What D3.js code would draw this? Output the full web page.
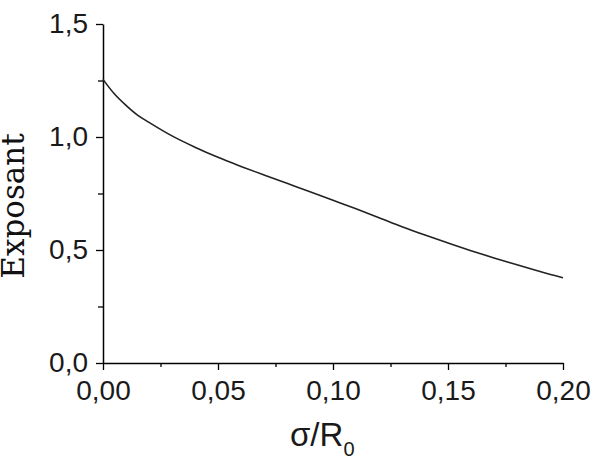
<!DOCTYPE html>
<html>
<head>
<meta charset="utf-8">
<script src="https://cdn.jsdelivr.net/npm/d3@7"></script>
<style>
  body { margin: 0; background: #fff; }
  svg { display: block; }
</style>
</head>
<body>
<div id="container"></div>
<script>
// values
var sigma = [0, 0.005, 0.01, 0.015, 0.02, 0.03, 0.04, 0.05, 0.06, 0.07, 0.08, 0.09,
    0.10, 0.11, 0.12, 0.13, 0.14, 0.15, 0.16, 0.17, 0.18, 0.19, 0.20];
var exposant = [1.255, 1.19, 1.14, 1.097, 1.065, 1.005, 0.955, 0.91, 0.87, 0.832, 0.795, 0.758,
    0.72, 0.682, 0.643, 0.603, 0.566, 0.531, 0.497, 0.465, 0.435, 0.405, 0.377];
var xTicks = [0, 0.05, 0.10, 0.15, 0.20];
var xMinor = [0.025, 0.075, 0.125, 0.175];
var yTicks = [0, 0.5, 1.0, 1.5];
var yMinor = [0.25, 0.75, 1.25];

const width = 598, height = 462;
const margin = { top: 24, right: 35, bottom: 99, left: 103 };

var svg = d3.select("#container")
    .append("svg")
    .attr("width", width)
    .attr("height", height);

var x = d3.scaleLinear()
    .domain([0, 0.2])
    .range([margin.left, width - margin.right]);

var y = d3.scaleLinear()
    .domain([0, 1.5])
    .range([height - margin.bottom, margin.top]);

function comma(f) {
    return function (d) { return d3.format(f)(d).replace(".", ","); };
}

// minor ticks first, so the axis line sits on top
svg.append("g")
    .attr("transform", "translate(0," + y(0) + ")")
    .call(d3.axisBottom(x).tickValues(xMinor).tickSize(4).tickFormat(""))
    .call(g => g.select(".domain").remove())
    .selectAll("line").attr("stroke", "#000").attr("stroke-width", 1.3);

svg.append("g")
    .attr("transform", "translate(" + x(0) + ",0)")
    .call(d3.axisLeft(y).tickValues(yMinor).tickSize(5).tickFormat(""))
    .call(g => g.select(".domain").remove())
    .selectAll("line").attr("stroke", "#000").attr("stroke-width", 1.3);

var xAxis = svg.append("g")
    .attr("transform", "translate(0," + y(0) + ")")
    .call(d3.axisBottom(x).tickValues(xTicks).tickSize(7).tickSizeOuter(0)
        .tickPadding(10).tickFormat(comma(".2f")));

var yAxis = svg.append("g")
    .attr("transform", "translate(" + x(0) + ",0)")
    .call(d3.axisLeft(y).tickValues(yTicks).tickSize(7).tickSizeOuter(0)
        .tickPadding(8).tickFormat(comma(".1f")));

[xAxis, yAxis].forEach(function (g) {
    g.select(".domain").attr("stroke", "#000").attr("stroke-width", 1.5);
    g.selectAll(".tick line").attr("stroke", "#000").attr("stroke-width", 1.3);
    g.selectAll(".tick text")
        .attr("fill", "#1a1a1a")
        .style("font-family", "'Liberation Sans', Arial, sans-serif")
        .style("font-size", "28px");
});

// curve
var pts = sigma.map(function (s, i) { return [s, exposant[i]]; });

svg.append("path")
    .datum(pts)
    .attr("fill", "none")
    .attr("stroke", "#222")
    .attr("stroke-width", 1.6)
    .attr("d", d3.line()
        .x(function (d) { return x(d[0]); })
        .y(function (d) { return y(d[1]); })
        .curve(d3.curveMonotoneX));

// axis titles
svg.append("text")
    .attr("transform", "translate(24,206) rotate(-90)")
    .attr("text-anchor", "middle")
    .style("font-family", "'DejaVu Serif', serif")
    .style("font-size", "31px")
    .attr("fill", "#111")
    .text("Exposant");

var xt = svg.append("text")
    .attr("x", 290)
    .attr("y", 446)
    .style("font-family", "'Liberation Sans', Arial, sans-serif")
    .style("font-size", "33px")
    .attr("fill", "#1a1a1a");
xt.append("tspan").text("σ/R");
xt.append("tspan")
    .attr("dy", 10)
    .style("font-size", "20px")
    .text("0");
</script>
</body>
</html>
